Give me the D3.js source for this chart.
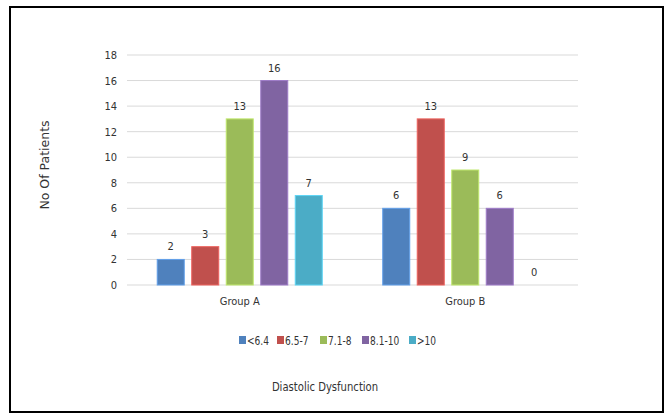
<!DOCTYPE html>
<html>
<head>
<meta charset="utf-8">
<script src="https://cdn.jsdelivr.net/npm/d3@7"></script>
<style>
  html, body { margin: 0; padding: 0; background: #fff; }
  svg { display: block; }
  .tick text { font-family: "DejaVu Sans Condensed", "Liberation Sans Narrow", sans-serif; font-size: 11px; fill: #333; }
</style>
</head>
<body>
<svg id="chart" width="665" height="416"></svg>
<script>
// Patient counts by diastolic dysfunction grade for each group
const groups = ["Group A", "Group B"];
const grades = ["<6.4", "6.5-7", "7.1-8", "8.1-10", ">10"];
const groupA = [2, 3, 13, 16, 7];
const groupB = [6, 13, 9, 6, 0];
const yTicks = [0, 2, 4, 6, 8, 10, 12, 14, 16, 18];
const colors = ["#4F81BD", "#C0504D", "#9BBB59", "#8064A2", "#4BACC6"];

const seriesByGroup = [groupA, groupB];
const narrow = '"DejaVu Sans Condensed", "Liberation Sans Narrow", sans-serif';

const svg = d3.select("#chart");

// Outer frame
svg.append("rect")
  .attr("x", 10).attr("y", 7).attr("width", 653).attr("height", 405)
  .attr("fill", "#fff").attr("stroke", "#000").attr("stroke-width", 2);

const plot = { left: 127, right: 578, top: 55, bottom: 285 };

const x0 = d3.scaleBand().domain(groups).range([plot.left, plot.right]);
const x1 = d3.scaleBand().domain(grades)
  .range([0, x0.bandwidth()]).paddingInner(0.217).paddingOuter(0.876);
const y = d3.scaleLinear().domain([0, 18]).range([plot.bottom, plot.top]);

// Horizontal gridlines
svg.append("g")
  .selectAll("line")
  .data(yTicks.filter(t => t > 0))
  .join("line")
  .attr("x1", plot.left).attr("x2", plot.right)
  .attr("y1", d => y(d)).attr("y2", d => y(d))
  .attr("stroke", "#d9d9d9").attr("stroke-width", 1);

// Y axis labels
const yAxis = svg.append("g")
  .attr("transform", `translate(${plot.left},0)`)
  .call(d3.axisLeft(y).tickValues(yTicks).tickSize(0).tickPadding(10));
yAxis.select(".domain").remove();

// Baseline
svg.append("line")
  .attr("x1", plot.left).attr("x2", plot.right)
  .attr("y1", plot.bottom).attr("y2", plot.bottom)
  .attr("stroke", "#d9d9d9").attr("stroke-width", 1);

// Group labels
const xAxis = svg.append("g")
  .attr("transform", `translate(0,${plot.bottom})`)
  .call(d3.axisBottom(x0).tickSize(0).tickPadding(12));
xAxis.select(".domain").remove();

// Bars
const barData = [];
groups.forEach((g, gi) => {
  grades.forEach((k, ki) => {
    barData.push({ group: g, grade: k, value: seriesByGroup[gi][ki], color: colors[ki] });
  });
});

svg.append("g")
  .selectAll("rect")
  .data(barData)
  .join("rect")
  .attr("x", d => x0(d.group) + x1(d.grade))
  .attr("y", d => y(d.value))
  .attr("width", x1.bandwidth())
  .attr("height", d => y(0) - y(d.value))
  .attr("fill", d => d.color)
  .attr("stroke", d => d3.color(d.color).brighter(0.6))
  .attr("stroke-width", d => d.value > 0 ? 1 : 0);

// Value labels
svg.append("g")
  .selectAll("text")
  .data(barData)
  .join("text")
  .attr("x", d => x0(d.group) + x1(d.grade) + x1.bandwidth() / 2)
  .attr("y", d => y(d.value) - 9)
  .attr("text-anchor", "middle")
  .attr("font-family", narrow)
  .attr("font-size", 11)
  .attr("fill", "#333")
  .text(d => d.value);

// Y axis title
svg.append("text")
  .attr("transform", "translate(49,165) rotate(-90)")
  .attr("text-anchor", "middle")
  .attr("font-family", '"DejaVu Sans", Verdana, sans-serif')
  .attr("font-size", 12.5)
  .attr("fill", "#333")
  .text("No Of Patients");

// Legend
const legendX = [239, 277, 320, 362, 409];
const legend = svg.append("g").selectAll("g")
  .data(grades)
  .join("g")
  .attr("transform", (d, i) => `translate(${legendX[i]},340)`);
legend.append("rect")
  .attr("x", 0).attr("y", -4).attr("width", 7).attr("height", 8)
  .attr("fill", (d, i) => colors[i]);
legend.append("text")
  .attr("transform", "translate(8,4.5) scale(0.84,1)")
  .attr("font-family", narrow)
  .attr("font-size", 12)
  .attr("fill", "#333")
  .text(d => d);

// X axis title
svg.append("text")
  .attr("transform", "translate(325,391) scale(0.86,1)")
  .attr("text-anchor", "middle")
  .attr("font-family", narrow)
  .attr("font-size", 13)
  .attr("fill", "#333")
  .text("Diastolic Dysfunction");
</script>
</body>
</html>
